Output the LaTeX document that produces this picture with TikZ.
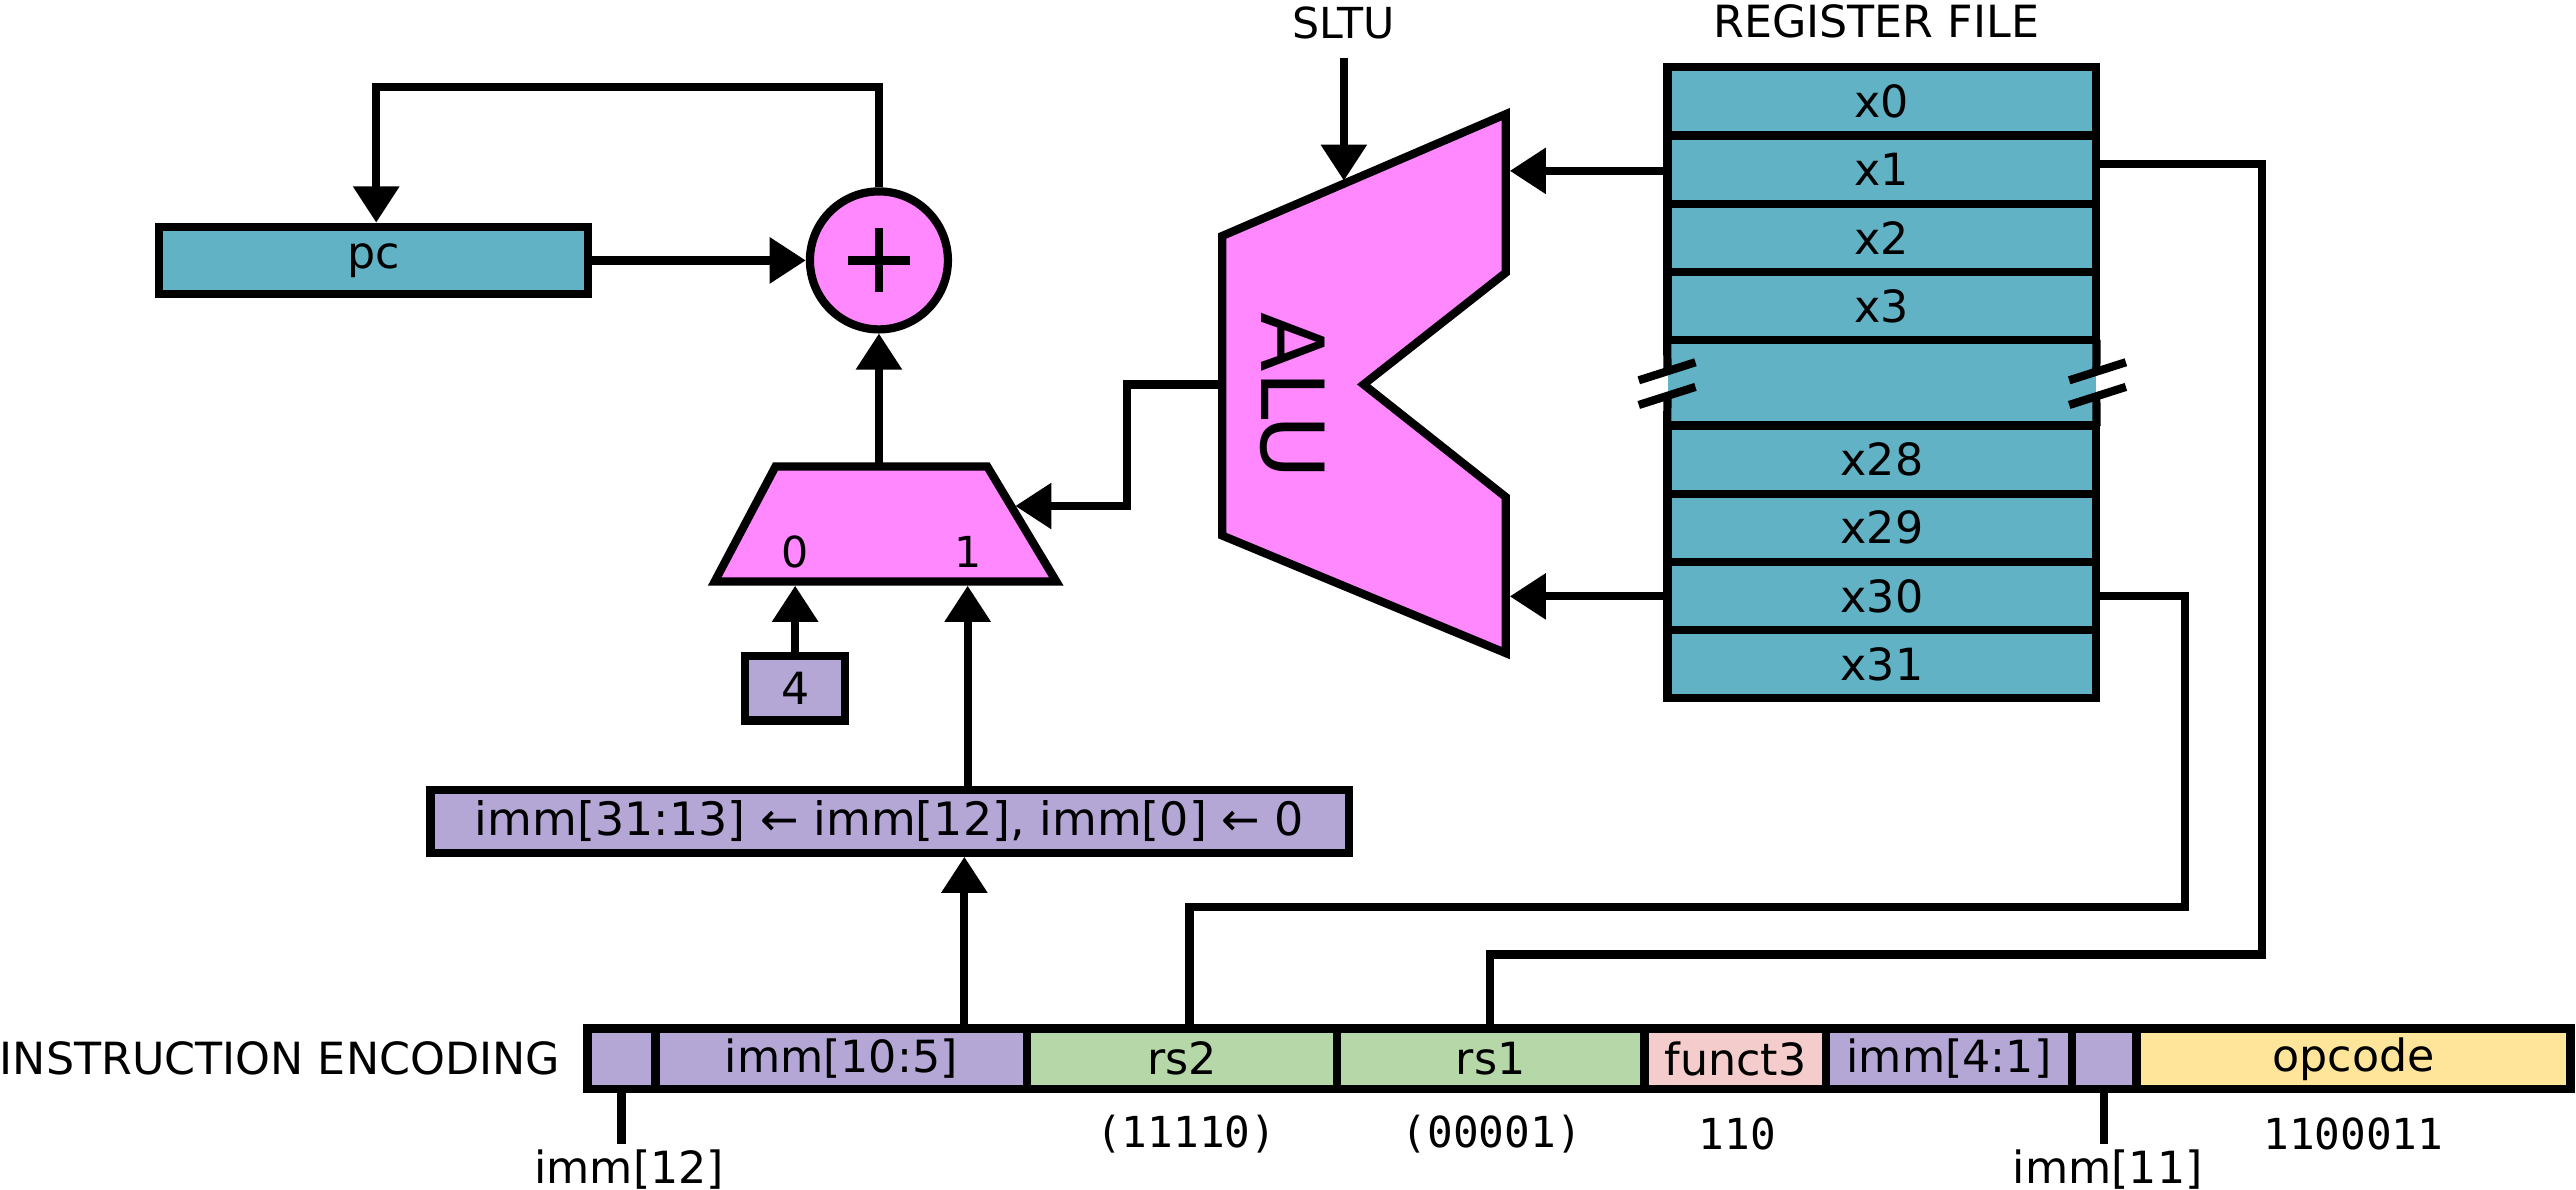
\documentclass[tikz,border=0pt]{standalone}
\usepackage{fontspec}
\setmainfont{DejaVu Sans}
\setmonofont{DejaVu Sans Mono}
\usetikzlibrary{arrows.meta,calc}
\definecolor{regteal}{HTML}{62B2C5}
\definecolor{alupink}{HTML}{FF88FF}
\definecolor{immpurple}{HTML}{B4A7D6}
\definecolor{rsgreen}{HTML}{B6D7A8}
\definecolor{fnpink}{HTML}{F4CCCC}
\definecolor{opyellow}{HTML}{FFE599}
\newcommand\myfs[1]{\fontsize{#1}{#1}\selectfont}
\begin{document}
\begin{tikzpicture}[x=1pt,y=-1pt,
  lw/.style={line width=5pt},
  wire/.style={lw, line join=miter},
  arr/.style={wire,-{Triangle[length=22pt,width=27pt]}},
  box/.style={draw, lw, inner sep=0pt, anchor=center, font=\myfs{27}},
  txt/.style={inner sep=0pt, font=\myfs{27}},
  mono/.style={inner sep=0pt, font=\ttfamily\myfs{26}},
  reg/.style={box, fill=regteal, minimum width=261pt, minimum height=41.5pt},
  field/.style={box, minimum height=37pt},
]
\useasboundingbox (0,0) rectangle (1568,724);

% ---------- PC and adder ----------
\node[box, fill=regteal, minimum width=261pt, minimum height=41pt] (pc) at (227.5,158.5) {pc};
\node[circle, draw, lw, fill=alupink, minimum size=84pt, inner sep=0pt] (add) at (535,158.5) {};
\draw[line width=5pt] ($(add)+(-19,0)$) -- ($(add)+(19,0)$);
\draw[line width=5pt] ($(add)+(0,-19.5)$) -- ($(add)+(0,19.5)$);

\coordinate (fbA) at (535,53);
\coordinate (fbB) at (229,53);
\draw[arr] (add.north) -- (fbA) -- (fbB) -- (fbB |- pc.north);
\draw[arr] (pc.east) -- (add.west);

% ---------- MUX ----------
\draw[lw, fill=alupink, line join=miter] (472,284) -- (601,284) -- (643,354) -- (435,354) -- cycle;
\coordinate (muxtop) at (535,284);
\coordinate (in0) at (484,356.5);
\coordinate (in1) at (589,356.5);
\coordinate (muxin) at (618,308);
\node[txt, font=\myfs{26}] (l0) at (484,336) {0};
\node[txt, font=\myfs{26}] (l1) at (589,336) {1};
\draw[arr] (muxtop) -- (add.south);

\node[box, fill=immpurple, minimum width=61pt, minimum height=39pt] (four) at (484,419) {4};
\draw[arr] (four.north) -- (in0);

\node[box, fill=immpurple, minimum width=559pt, minimum height=38pt, font=\myfs{28}] (immbox) at (541.5,500)
  {imm[31:13] ← imm[12], imm[0] ← 0};
\draw[arr] (immbox.north -| in1) -- (in1);

% ---------- ALU ----------
\draw[lw, fill=alupink, line join=miter] (744,143.6) -- (916.5,69.5) -- (916.5,166) -- (830,234)
  -- (916.5,302.5) -- (916.5,397.5) -- (744,326) -- cycle;
\node[inner sep=0pt, font=\myfs{53}, rotate=-90] (alulbl) at (787,241) {ALU};
\coordinate (aluout) at (744,234);
\coordinate (aluinA) at (919,104);
\coordinate (aluinB) at (919,363);
\coordinate (sltuend) at (818,110);
\node[txt, font=\myfs{26}] (sltu) at (818,14) {SLTU};
\draw[arr] (818,35) -- (sltuend);
\draw[arr] (aluout) -- (686,234) -- (686,308) -- (muxin);

% ---------- Register file ----------
\node[txt] (rftitle) at (1142,13) {REGISTER FILE};
\node[fill=regteal, minimum width=261pt, minimum height=52pt, inner sep=0pt] (gap) at (1145.5,233) {};
\node[reg] (x0) at (1145.5,61.75) {x0};
\node[reg] (x1) at (1145.5,103.25) {x1};
\node[reg] (x2) at (1145.5,144.75) {x2};
\node[reg] (x3) at (1145.5,186.25) {x3};
\node[reg] (x28) at (1145.5,279.75) {x28};
\node[reg] (x29) at (1145.5,321.25) {x29};
\node[reg] (x30) at (1145.5,362.75) {x30};
\node[reg] (x31) at (1145.5,404.25) {x31};
% broken sides of the gap row
\draw[lw] (gap.north west) -- (1015,226);
\draw[lw] (1015,241) -- (gap.south west);
\draw[lw] (gap.north east) -- (1276,226);
\draw[lw] (1276,241) -- (gap.south east);
\draw[lw] (997.5,231.5) -- (1032,220.5);
\draw[lw] (997.5,246.5) -- (1032,235.5);
\draw[lw] (1259.5,231.5) -- (1294,220.5);
\draw[lw] (1259.5,246.5) -- (1294,235.5);

\draw[arr] (x1.west |- aluinA) -- (aluinA);
\draw[arr] (x30.west |- aluinB) -- (aluinB);

% ---------- Instruction encoding ----------
\node[txt, anchor=east] (enc) at (341,644.5) {INSTRUCTION ENCODING};
\node[field, fill=immpurple, minimum width=41.4pt] (f12) at (378.3,644.5) {};
\node[field, fill=immpurple, minimum width=226pt] (f105) at (512,644.5) {imm[10:5]};
\node[field, fill=rsgreen, minimum width=188.7pt] (rs2) at (719.35,644.5) {rs2};
\node[field, fill=rsgreen, minimum width=187.3pt] (rs1) at (907.35,644.5) {rs1};
\node[field, fill=fnpink, minimum width=110.7pt] (fn3) at (1056.35,644.5) {funct3};
\node[field, fill=immpurple, minimum width=149.3pt] (f41) at (1186.35,644.5) {imm[4:1]};
\node[field, fill=immpurple, minimum width=39.4pt] (f11) at (1280.7,644.5) {};
\node[field, fill=opyellow, minimum width=264.2pt] (op) at (1432.5,644.5) {opcode};

\coordinate (immx) at (587,0);
\draw[arr] (f105.north -| immx) -- (immbox.south -| immx);

% register to rs wires
\coordinate (r1) at (1377,100);
\coordinate (rs1turn) at (907,581);
\draw[wire] (x1.east |- r1) -- (r1) -- (r1 |- rs1turn) -- (rs1turn) -- (rs1turn |- rs1.north);
\coordinate (r30) at (1330,362.75);
\coordinate (rs2turn) at (724,552);
\draw[wire] (x30.east) -- (r30) -- (r30 |- rs2turn) -- (rs2turn) -- (rs2turn |- rs2.north);

% ticks and labels below
\draw[wire] (f12.south) -- ++(0,31);
\draw[wire] (f11.south) -- ++(0,31);
\node[txt] (l12) at (383,712) {imm[12]};
\node[txt] (l11) at (1283,712) {imm[11]};
\node[mono] (v2) at (722,690.5) {(11110)};
\node[mono] (v1) at (908,690.5) {(00001)};
\node[mono] (vf) at (1057.5,690.5) {110};
\node[mono] (vo) at (1432.5,690.5) {1100011};
\end{tikzpicture}
\end{document}
